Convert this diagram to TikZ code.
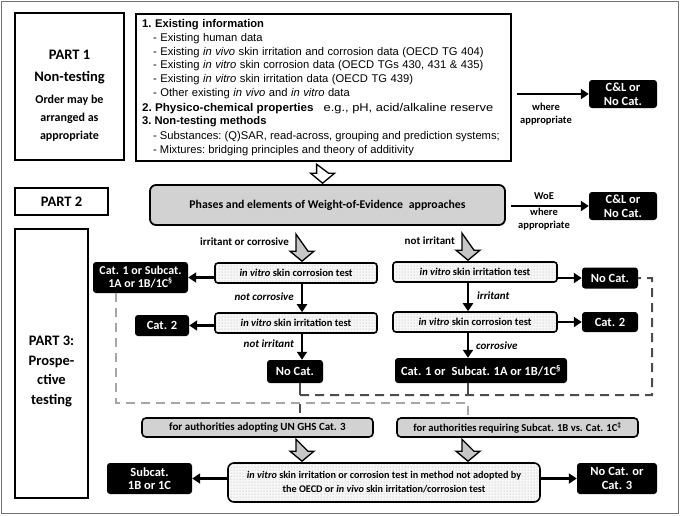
\documentclass[tikz,border=0pt]{standalone}
\usepackage{fontspec}
\usepackage{graphicx}
\setmainfont{Carlito}
\newfontfamily\arialf{Liberation Sans}
\usetikzlibrary{arrows.meta,patterns,calc}
\newcommand\blockarr[3]{%
  \begin{scope}[shift={(#1)}]
    \draw[line width=1.3pt, fill=#3, line join=miter]
      (-6,0) -- (-6,{#2-10}) -- (-12,{#2-10}) -- (0,#2) -- (12,{#2-10}) -- (6,{#2-10}) -- cycle;
  \end{scope}}
\newcommand\bigf{\bfseries\fontsize{14.5}{18}\selectfont}
\newcommand\widel{\spaceskip=3.5pt plus 1pt minus 0.5pt\relax}
\newcommand\norml{\spaceskip=0pt\relax}
\begin{document}
\begin{tikzpicture}[x=1pt,y=-1pt,
  bigbox/.style={draw, line width=2.2pt, inner sep=0pt, align=center},
  blk/.style={fill=black, text=white, rounded corners=3pt, inner sep=0pt, align=center, font=\bfseries\fontsize{12.5}{13.5}\selectfont},
  dotbox/.style={draw, line width=1.6pt, rounded corners=3pt, preaction={fill=gray!6}, pattern=dots, pattern color=gray!65, inner sep=0pt, align=center, font=\bfseries\fontsize{10.5}{12}\selectfont},
  graybox/.style={draw, line width=1.6pt, rounded corners=4pt, fill=gray!35, inner sep=0pt, align=center, font=\bfseries\fontsize{11}{12}\selectfont},
  arr/.style={-{Triangle[length=8pt,width=10pt]}, line width=2.2pt},
  lbl/.style={font=\bfseries\itshape\fontsize{11}{12}\selectfont, inner sep=1pt},
  ulbl/.style={font=\bfseries\fontsize{10.5}{13}\selectfont, inner sep=1pt, align=center},
  darkdash/.style={line width=2pt, draw=black!70, dash pattern=on 9pt off 6pt},
  lightdash/.style={line width=2pt, draw=black!35, dash pattern=on 9pt off 6pt},
  conn/.style={line width=1.6pt, draw=black!70}
]
\useasboundingbox (0,0) rectangle (680,515);
\draw[black!55, line width=1.5pt] (1.5,1.5) rectangle (678.5,513.5);

% PART 1
\node[bigbox, minimum width=109, minimum height=147] (p1) at (69.5,86.5) {};
\node[align=center, inner sep=0pt, font=\bfseries\fontsize{12}{18}\selectfont] (p1t) at ([yshift=-9pt]p1.center)
  {\bigf PART 1\\[4pt]
   \bigf Non-testing\\[4pt]
   Order may be\\ arranged as\\ appropriate};
\node[bigbox, minimum width=373, minimum height=147, align=left, anchor=north west,
  text width=363, inner xsep=6pt, font=\arialf\fontsize{11.2}{13.75}\selectfont\frenchspacing] (info) at (135,13)
  {\textbf{1. Existing information}\\
   \widel\hspace*{11pt}- Existing human data\\
   \hspace*{11pt}- Existing \textit{in vivo} skin irritation and corrosion data (OECD TG 404)\\
   \hspace*{11pt}- Existing \textit{in vitro} skin corrosion data (OECD TGs 430, 431 \& 435)\\
   \hspace*{11pt}- Existing \textit{in vitro} skin irritation data (OECD TG 439)\\
   \hspace*{11pt}- Other existing \textit{in vivo} and \textit{in vitro} data\\[1pt]
   \norml\scalebox{1.04}[1]{\textbf{2. Physico-chemical properties}}\hspace{10pt}\scalebox{1.15}[1]{e.g., pH, acid/alkaline reserve}\\
   \textbf{3. Non-testing methods}\\[1pt]
   \hspace*{11pt}- Substances: (Q)SAR, read-across, grouping and prediction systems;\\
   \hspace*{11pt}- Mixtures: bridging principles and theory of additivity};
\node[blk, minimum width=68, minimum height=28] (cl1) at (623,94) {C\&L or\\No Cat.};
\draw[arr, shorten <=5pt] (info.east |- cl1) -- (cl1.west);
\node[ulbl] (wa1) at (546,114) {where\\appropriate};

% PART 2
\node[bigbox, minimum width=93, minimum height=27, font=\bigf] (p2) at (61.5,201.5) {PART 2};
\node[graybox, line width=1.8pt, rounded corners=6pt, minimum width=355, minimum height=40, font=\bfseries\fontsize{11.8}{13}\selectfont] (woe) at (327.5,205)
  {Phases and elements of Weight-of-Evidence\enspace approaches};
\node[blk, minimum width=68, minimum height=28] (cl2) at (623,206) {C\&L or\\No Cat.};
\draw[arr, shorten <=5pt] (woe.east |- cl2) -- (cl2.west);
\node[ulbl] (woelbl) at (544,196) {WoE};
\node[ulbl] (wa2) at (544,219) {where\\appropriate};
\blockarr{$(info.south)+(-1,2)$}{19}{white}

% PART 3
\node[bigbox, minimum width=73, minimum height=269] (p3) at (51.5,363.5) {};
\node[align=center, inner sep=0pt, font=\bfseries\fontsize{14.5}{19.5}\selectfont] (p3t) at ([yshift=-8pt]p3.center)
  {PART 3:\\Prospe-\\ctive\\testing};

% left column
\node[dotbox, minimum width=162, minimum height=20] (lc1) at (296,273) {\textit{in vitro} skin corrosion test};
\node[dotbox, minimum width=162, minimum height=20] (li1) at (296,323) {\textit{in vitro} skin irritation test};
\node[blk, minimum width=95, minimum height=31, font=\bfseries\fontsize{12}{13}\selectfont] (lcat1) at (140.5,277.5) {Cat. 1 or Subcat.\\1A or 1B/1C\textsuperscript{\S}};
\node[blk, minimum width=54, minimum height=21] (lcat2) at (162,325.5) {Cat. 2};
\node[blk, minimum width=56, minimum height=23] (lno) at (295,371.5) {No Cat.};
\blockarr{$(lc1.north)+(6,-28)$}{27}{gray!45}
\node[ulbl, anchor=east, font=\bfseries\fontsize{11}{12}\selectfont] (lirr) at (290,242) {irritant or corrosive};
\draw[arr] (lc1.west |- lcat1) -- (lcat1.east);
\draw[arr] (li1.west |- lcat2) -- (lcat2.east);
\draw[arr] ($(lc1.south)+(6,0)$) -- ($(li1.north)+(6,0)$);
\node[lbl, anchor=east] (lnc) at (295,297) {not corrosive};
\draw[arr] ($(li1.south)+(6,0)$) -- ($(lno.north)+(7,0)$);
\node[lbl, anchor=east] (lni) at (295,344) {not irritant};

% right column
\node[dotbox, minimum width=164, minimum height=20] (ri1) at (475,272) {\textit{in vitro} skin irritation test};
\node[dotbox, minimum width=164, minimum height=20] (rc1) at (475,322) {\textit{in vitro} skin corrosion test};
\node[blk, minimum width=56, minimum height=21] (rno) at (610,278) {No Cat.};
\node[blk, minimum width=56, minimum height=20] (rcat2) at (610,322) {Cat. 2};
\node[blk, minimum width=172, minimum height=25] (rcat1) at (481,370.5) {Cat. 1 or\enspace Subcat. 1A or 1B/1C\textsuperscript{\S}};
\blockarr{$(ri1.north)+(-7,-28)$}{27}{gray!45}
\node[ulbl, anchor=east, font=\bfseries\fontsize{11}{12}\selectfont] (rni) at (456,241) {not irritant};
\draw[arr] (ri1.east |- rno) -- (rno.west);
\draw[arr] (rc1.east |- rcat2) -- (rcat2.west);
\draw[arr] ($(ri1.south)+(-7,0)$) -- ($(rc1.north)+(-7,0)$);
\node[lbl, anchor=west] (rir) at (476,296) {irritant};
\draw[arr] ($(rc1.south)+(-7,0)$) -- ($(rcat1.north)+(-13,0)$);
\node[lbl, anchor=west] (rco) at (475,346) {corrosive};

% lower part
\node[graybox, minimum width=231, minimum height=19] (auth1) at (257.5,427.5) {for authorities adopting UN GHS Cat. 3};
\node[graybox, minimum width=241, minimum height=19, font=\bfseries\fontsize{10.6}{12}\selectfont] (auth2) at (517.5,427.5) {for authorities requiring Subcat. 1B vs. Cat. 1C\textsuperscript{\ddag}};
\node[dotbox, rounded corners=6pt, minimum width=312, minimum height=39, font=\bfseries\fontsize{10.2}{14}\selectfont] (bot) at (384,482.5)
  {\textit{in vitro} skin irritation or corrosion test in method not adopted by\\the OECD or \textit{in vivo} skin irritation/corrosion test};
\node[blk, minimum width=85, minimum height=31] (sub) at (149.5,478.5) {Subcat.\\1B or 1C};
\node[blk, minimum width=80, minimum height=31] (nc3) at (617,478.5) {No Cat. or\\Cat. 3};
\draw[arr] (bot.west |- sub) -- (sub.east);
\draw[arr] (bot.east |- nc3) -- (nc3.west);
\blockarr{$(bot.north)+(-82,-23)$}{22}{gray!45}
\blockarr{$(bot.north)+(84,-23)$}{22}{gray!45}

% dashed groupings
\coordinate (dA) at ($(lno.south)+(5,12)$);
\coordinate (dB) at (652,395);
\coordinate (dC) at ($(rcat1.south)+(-13,12)$);
\draw[conn] ($(lno.south)+(5,0)$) -- (dA);
\draw[conn] ($(rcat1.south)+(-13,0)$) -- (dC);
\draw[darkdash] (dA) -- (dB) |- (rno.east);
\draw[darkdash] ($(dA)+(0,9)$) -- (dA |- auth1.north);
\coordinate (gA) at ($(lcat1.south)+(-24.5,0)$);
\coordinate (gB) at (gA |- 0,403);
\coordinate (gC) at (dC |- gB);
\draw[lightdash] (gA) -- (gB) -- (gC) -- (gC |- auth2.north);
\end{tikzpicture}
\end{document}
